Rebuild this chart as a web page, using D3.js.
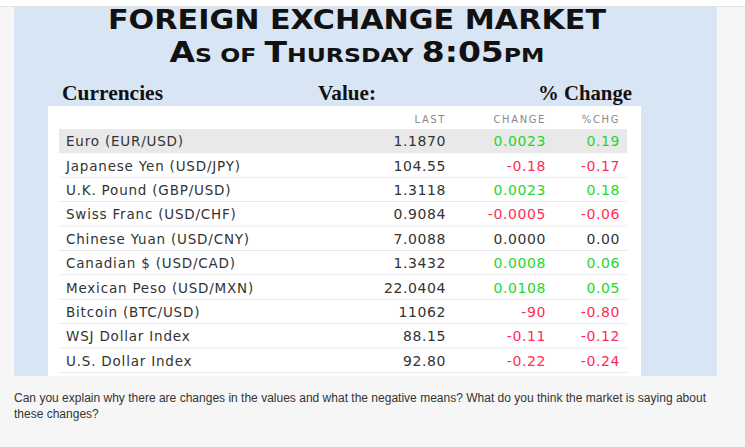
<!DOCTYPE html>
<html>
<head>
<meta charset="utf-8">
<script src="https://cdn.jsdelivr.net/npm/d3@7"></script>
<style>
  html, body { margin: 0; padding: 0; background: #f6f6f6; }
  svg { display: block; }
</style>
</head>
<body>
<div id="chart"></div>
<script>
var currencies = ['Euro (EUR/USD)', 'Japanese Yen (USD/JPY)', 'U.K. Pound (GBP/USD)',
  'Swiss Franc (USD/CHF)', 'Chinese Yuan (USD/CNY)', 'Canadian $ (USD/CAD)',
  'Mexican Peso (USD/MXN)', 'Bitcoin (BTC/USD)', 'WSJ Dollar Index', 'U.S. Dollar Index'];
var lastValues = ['1.1870', '104.55', '1.3118', '0.9084', '7.0088', '1.3432', '22.0404', '11062', '88.15', '92.80'];
var changes = ['0.0023', '-0.18', '0.0023', '-0.0005', '0.0000', '0.0008', '0.0108', '-90', '-0.11', '-0.22'];
var pctChanges = ['0.19', '-0.17', '0.18', '-0.06', '0.00', '0.06', '0.05', '-0.80', '-0.12', '-0.24'];
var columns = ['LAST', 'CHANGE', '%CHG'];

var width = 745, height = 447;

var svg = d3.select('#chart').append('svg')
  .attr('width', width)
  .attr('height', height);

// top strip
svg.append('rect').attr('x', 0).attr('y', 0).attr('width', width).attr('height', 6).attr('fill', '#fff');
svg.append('line').attr('x1', 0).attr('x2', width).attr('y1', 6.5).attr('y2', 6.5).attr('stroke', '#e2e2e2');

// blue panel
svg.append('rect').attr('x', 14).attr('y', 7).attr('width', 703).attr('height', 369).attr('fill', '#d8e5f4');

// title
svg.append('text')
  .attr('x', 357).attr('y', 29)
  .attr('text-anchor', 'middle')
  .attr('font-family', 'DejaVu Sans')
  .attr('font-weight', 'bold')
  .attr('font-size', 27)
  .attr('fill', '#111')
  .attr('textLength', 498)
  .attr('lengthAdjust', 'spacingAndGlyphs')
  .text('FOREIGN EXCHANGE MARKET');

var sub = [['A', 1], ['S OF ', 0], ['T', 1], ['HURSDAY ', 0], ['8:05', 1], ['PM', 0]];
var t2 = svg.append('text')
  .attr('x', 357).attr('y', 62)
  .attr('text-anchor', 'middle')
  .attr('font-family', 'DejaVu Sans')
  .attr('font-weight', 'bold')
  .attr('fill', '#111')
  .attr('textLength', 375)
  .attr('lengthAdjust', 'spacingAndGlyphs');
t2.selectAll('tspan').data(sub).enter().append('tspan')
  .attr('font-size', d => d[1] ? 28 : 20)
  .text(d => d[0]);

// section headings
var heads = [['Currencies', 62, 'start', 101], ['Value:', 318, 'start', 58], ['% Change', 632, 'end', 94]];
svg.selectAll('text.head').data(heads).enter().append('text')
  .attr('class', 'head')
  .attr('x', d => d[1]).attr('y', 100)
  .attr('text-anchor', d => d[2])
  .attr('font-family', 'Liberation Serif')
  .attr('font-weight', 'bold')
  .attr('font-size', 21)
  .attr('fill', '#111')
  .attr('textLength', d => d[3])
  .attr('lengthAdjust', 'spacingAndGlyphs')
  .text(d => d[0]);

// table box
svg.append('rect').attr('x', 48).attr('y', 106).attr('width', 593).attr('height', 270).attr('fill', '#fff');

var y = d3.scaleBand().domain(currencies).range([129, 373]);
var x = d3.scaleOrdinal().domain(columns).range([446, 546, 620]);

var font = 'DejaVu Sans';

svg.append('g').selectAll('text').data(columns).enter().append('text')
  .attr('x', d => x(d)).attr('y', 123)
  .attr('text-anchor', 'end')
  .attr('font-family', font)
  .attr('font-size', 10)
  .attr('letter-spacing', 1.6)
  .attr('fill', '#8a8a8a')
  .text(d => d);

var rows = svg.append('g').selectAll('g.row')
  .data(currencies.map((c, i) => ({ name: c, last: lastValues[i], chg: changes[i], pct: pctChanges[i], i: i })))
  .enter().append('g')
  .attr('class', 'row')
  .attr('transform', d => 'translate(0,' + y(d.name) + ')');

rows.append('rect')
  .attr('x', 59).attr('width', 568)
  .attr('height', y.bandwidth())
  .attr('fill', d => d.i === 0 ? '#e9e9e9' : '#fff');

rows.append('line')
  .attr('x1', 59).attr('x2', 627)
  .attr('y1', y.bandwidth() - 0.5).attr('y2', y.bandwidth() - 0.5)
  .attr('stroke', '#e6e6e6');

function tone(v) {
  var n = +v;
  return n > 0 ? '#1fd62e' : n < 0 ? '#ff2d55' : '#333';
}

var mid = y.bandwidth() / 2 + 5;

rows.append('text')
  .attr('x', 66).attr('y', mid)
  .attr('font-family', font)
  .attr('font-size', 13.5)
  .attr('letter-spacing', 0.8)
  .attr('fill', '#333')
  .text(d => d.name);

var cells = [['LAST', 'last'], ['CHANGE', 'chg'], ['%CHG', 'pct']];
cells.forEach(function(c) {
  rows.append('text')
    .attr('x', x(c[0])).attr('y', mid)
    .attr('text-anchor', 'end')
    .attr('font-family', font).attr('font-size', 14)
    .attr('letter-spacing', 0.6)
    .attr('fill', d => c[1] === 'last' ? '#333' : tone(d[c[1]]))
    .text(d => d[c[1]]);
});

// question below
var question = ['Can you explain why there are changes in the values and what the negative means? What do you think the market is saying about',
  'these changes?'];
svg.selectAll('text.q').data(question).enter().append('text')
  .attr('class', 'q')
  .attr('x', 14).attr('y', (d, i) => 402 + i * 16)
  .attr('font-family', 'Liberation Sans')
  .attr('font-size', 12)
  .attr('fill', '#333')
  .attr('textLength', (d, i) => i === 0 ? 692 : null)
  .attr('lengthAdjust', 'spacingAndGlyphs')
  .text(d => d);
</script>
</body>
</html>
